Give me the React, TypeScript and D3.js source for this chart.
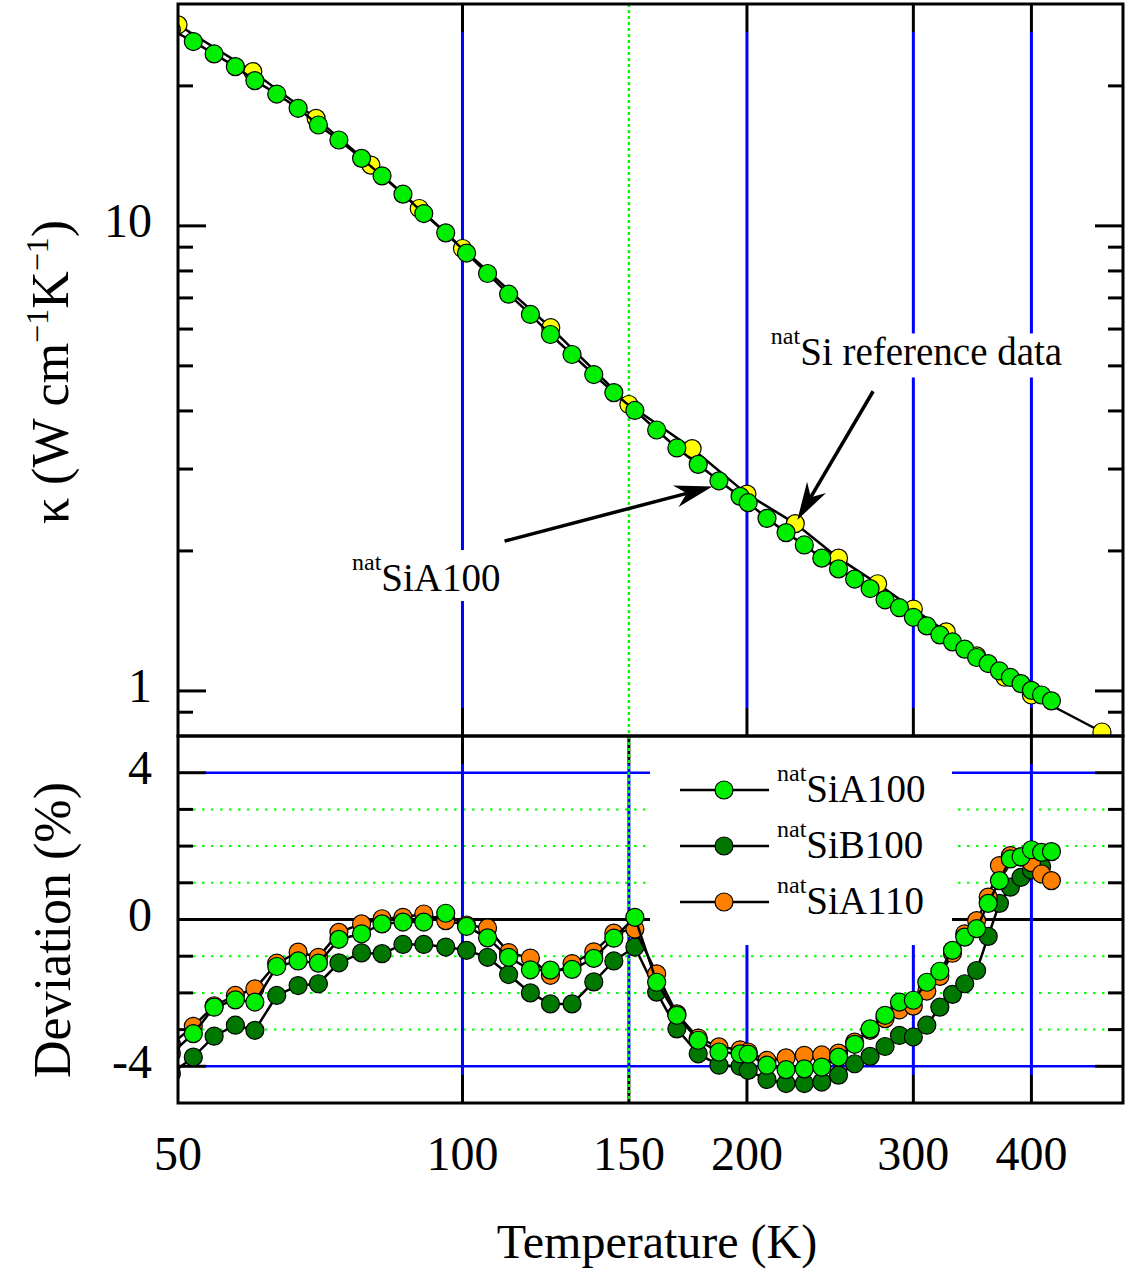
import { scaleLog, scaleLinear, line } from 'd3'

const width = 1126,
      height = 1272,
      left = 178, right = 1123, top = 4, mid = 736, bottom = 1103,
      majorLen = 28, minorLen = 15,
      markR = 9

// temperatures of the sample runs (K)
const temps = [49.2, 51.9, 54.6, 57.5, 60.3, 63.6, 67.0, 70.4, 74.0, 78.2,
  82.2, 86.5, 91.0, 96.0, 101.0, 106.3, 111.9, 118.0, 123.9, 130.6,
  137.7, 144.6, 152.2, 160.5, 168.6, 177.6, 186.8, 196.7, 200.6,
  210, 220, 230, 240, 250, 260, 270, 280, 290, 300,
  310, 320, 330, 340, 350, 360, 370, 380, 390, 400, 410, 420]

// kappa of natSiA100 (W cm-1 K-1)
const kappaA100 = [26.4, 24.91, 23.43, 22.0, 20.53, 19.21, 17.90, 16.48, 15.30, 13.97,
  12.81, 11.70, 10.63, 9.66, 8.74, 7.90, 7.13, 6.45, 5.84, 5.29,
  4.79, 4.38, 4.01, 3.64, 3.33, 3.07, 2.83, 2.62, 2.54,
  2.35, 2.19, 2.06, 1.93, 1.83, 1.74, 1.66, 1.57, 1.51, 1.44,
  1.38, 1.32, 1.275, 1.23, 1.18, 1.145, 1.104, 1.069, 1.037, 1.003, 0.98, 0.952]

// deviation from reference (%)
const devA100 = [-3.65, -3.11, -2.39, -2.19, -2.25, -1.28, -1.13, -1.19, -0.54, -0.39,
  -0.12, -0.07, -0.07, 0.17, -0.19, -0.50, -1.03, -1.37, -1.38, -1.36,
  -1.06, -0.51, 0.06, -1.71, -2.61, -3.29, -3.61, -3.66, -3.67,
  -3.97, -4.09, -4.07, -4.02, -3.75, -3.40, -2.98, -2.61, -2.25, -2.20,
  -1.71, -1.41, -0.84, -0.48, -0.25, 0.44, 1.06, 1.65, 1.71, 1.90, 1.83, 1.85]

const devB100 = [-4.2, -3.75, -3.18, -2.88, -3.02, -2.07, -1.80, -1.75, -1.18, -0.91,
  -0.93, -0.68, -0.68, -0.75, -0.84, -1.03, -1.50, -2.00, -2.30, -2.30,
  -1.70, -1.13, -0.75, -1.98, -2.98, -3.66, -3.97, -4.00, -4.11,
  -4.36, -4.47, -4.47, -4.43, -4.24, -3.93, -3.73, -3.46, -3.16, -3.20,
  -2.88, -2.39, -2.04, -1.75, -1.39, -0.46, 0.44, 0.88, 1.15, 1.35, 1.44]

const devA110 = [-3.4, -2.91, -2.35, -2.07, -1.89, -1.19, -0.89, -1.03, -0.35, -0.12,
  0.02, 0.06, 0.15, -0.03, -0.15, -0.23, -0.90, -1.05, -1.52, -1.20,
  -0.88, -0.37, -0.26, -1.48, -2.57, -3.23, -3.47, -3.55, -3.61,
  -3.84, -3.77, -3.70, -3.69, -3.64, -3.34, -3.02, -2.70, -2.46, -2.36,
  -1.95, -1.55, -0.92, -0.39, -0.03, 0.61, 1.47, 1.74, 1.70, 1.55, 1.24, 1.06]

// natSi reference data
const refTemps = [50, 60, 70, 80, 90, 100, 124, 150, 175, 200, 225, 250, 275, 300, 325, 350, 375, 400, 475]
const refKappa = [27.06, 21.46, 17.03, 13.51, 10.90, 8.94, 6.04, 4.13, 3.32, 2.65, 2.29, 1.93, 1.70, 1.50, 1.34, 1.19, 1.07, 0.98, 0.816]

const xTicks = [50, 100, 150, 200, 300, 400]
const xGrid = [100, 200, 300, 400]
const kMajor = [1, 10]
const kMinor = [0.9, 2, 3, 4, 5, 6, 7, 8, 9, 20]
const devMajor = [-4, 0, 4]
const devMinor = [-3, -2, -1, 1, 2, 3]

const green = '#00ee00', darkGreen = '#007800', orange = '#ff8000', yellow = '#ffff00', blue = '#0000ff'
const font = '"Liberation Serif", "Times New Roman", serif'

const series = [
  { name: 'SiA100', fill: green, dev: devA100 },
  { name: 'SiB100', fill: darkGreen, dev: devB100 },
  { name: 'SiA110', fill: orange, dev: devA110 },
]
const drawOrder = [1, 2, 0]

const x = scaleLog().domain([50, 500]).range([left, right])
const yK = scaleLog().domain([0.8, 30]).range([mid, top])
const yD = scaleLinear().domain([-5, 5]).range([bottom, mid])

// annotation arrows, in data coordinates [T, kappa]
const arrows = [
  { from: [110.8, 2.10], to: [183.9, 2.75] },
  { from: [272, 4.41], to: [226.1, 2.33] },
]

const arrowParts = (a) => {
  const x1 = x(a.from[0]), y1 = yK(a.from[1]), x2 = x(a.to[0]), y2 = yK(a.to[1])
  const dx = x2 - x1, dy = y2 - y1, len = Math.hypot(dx, dy)
  const ux = dx / len, uy = dy / len, nx = -uy, ny = ux
  const L = 38, w = 11
  const bx = x2 - ux * L, by = y2 - uy * L
  const mx = x2 - ux * L * 0.7, my = y2 - uy * L * 0.7
  return {
    shaft: `M${x1},${y1}L${mx},${my}`,
    head: `M${x2},${y2}L${bx + nx * w},${by + ny * w}L${mx},${my}L${bx - nx * w},${by - ny * w}Z`
  }
}

export default function App() {
  const kLine = line<number[]>().x(d => x(d[0])).y(d => yK(d[1]))
  const dLine = line<number[]>().x(d => x(d[0])).y(d => yD(d[1]))

  const refPts = refTemps.map((t, i) => [t, refKappa[i]])
  const a100Pts = temps.map((t, i) => [t, kappaA100[i]])

  const refLabel = { x: x(212), y: yK(5.01) }
  const a100Label = { x: x(76.4), y: yK(1.64) }

  return (
    <svg width={width} height={height} style={{ position: 'absolute', left: 0, top: 0, background: '#fff' }}
         fontFamily={font}>
      <defs>
        <clipPath id='clipTop'><rect x={left} y={top} width={right - left} height={mid - top} /></clipPath>
        <clipPath id='clipBot'><rect x={left} y={mid} width={right - left} height={bottom - mid} /></clipPath>
      </defs>

      {/* bottom panel grid */}
      {devMinor.map(d => (
        <line key={'gd' + d} x1={left + minorLen} x2={right - minorLen} y1={yD(d)} y2={yD(d)}
              stroke='#00ff00' strokeWidth={2} strokeDasharray='2.5 6.5' />
      ))}
      {[-4, 4].map(d => (
        <line key={'bd' + d} x1={left + majorLen} x2={right - majorLen} y1={yD(d)} y2={yD(d)}
              stroke={blue} strokeWidth={2.5} />
      ))}
      <line x1={left} x2={right} y1={yD(0)} y2={yD(0)} stroke='#000' strokeWidth={3} />
      {[...xGrid, 150].map(t => (
        <line key={'bv' + t} x1={x(t)} x2={x(t)} y1={mid + majorLen} y2={bottom - majorLen}
              stroke={blue} strokeWidth={3} />
      ))}

      {/* top panel grid */}
      {xGrid.map(t => (
        <line key={'tv' + t} x1={x(t)} x2={x(t)} y1={top + majorLen} y2={mid - majorLen}
              stroke={blue} strokeWidth={3} />
      ))}

      {/* ticks */}
      <g stroke='#000' strokeWidth={3}>
        {xGrid.map(t => (
          <g key={'xt' + t}>
            <line x1={x(t)} x2={x(t)} y1={top} y2={top + majorLen} />
            <line x1={x(t)} x2={x(t)} y1={mid} y2={mid - majorLen} />
            <line x1={x(t)} x2={x(t)} y1={mid} y2={mid + majorLen} />
            <line x1={x(t)} x2={x(t)} y1={bottom} y2={bottom - majorLen} />
          </g>
        ))}
        <line x1={x(150)} x2={x(150)} y1={bottom} y2={bottom - majorLen} />
        <line x1={x(150)} x2={x(150)} y1={mid} y2={mid + majorLen} />
        {kMajor.map(k => (
          <g key={'km' + k}>
            <line x1={left} x2={left + majorLen} y1={yK(k)} y2={yK(k)} />
            <line x1={right} x2={right - majorLen} y1={yK(k)} y2={yK(k)} />
          </g>
        ))}
        {kMinor.map(k => (
          <g key={'kn' + k}>
            <line x1={left} x2={left + minorLen} y1={yK(k)} y2={yK(k)} />
            <line x1={right} x2={right - minorLen} y1={yK(k)} y2={yK(k)} />
          </g>
        ))}
        {devMajor.map(d => (
          <g key={'dm' + d}>
            <line x1={left} x2={left + majorLen} y1={yD(d)} y2={yD(d)} />
            <line x1={right} x2={right - majorLen} y1={yD(d)} y2={yD(d)} />
          </g>
        ))}
        {devMinor.map(d => (
          <g key={'dn' + d}>
            <line x1={left} x2={left + minorLen} y1={yD(d)} y2={yD(d)} />
            <line x1={right} x2={right - minorLen} y1={yD(d)} y2={yD(d)} />
          </g>
        ))}
      </g>

      {/* white boxes behind legend and labels */}
      <rect x={650} y={mid + 1} width={302} height={208} fill='#fff' />
      <rect x={refLabel.x - 6} y={refLabel.y - 32} width={292} height={44} fill='#fff' />
      <rect x={a100Label.x - 6} y={a100Label.y - 41} width={154} height={51} fill='#fff' />

      {/* dotted marker at 150 K */}
      <line x1={x(150)} x2={x(150)} y1={top} y2={bottom} stroke='#00ff00' strokeWidth={2.5} strokeDasharray='3 3' />

      {/* top panel data */}
      <g clipPath='url(#clipTop)'>
        <path d={kLine(refPts)} fill='none' stroke='#000' strokeWidth={2.5} />
        {refPts.map((p, i) => (
          <circle key={'r' + i} cx={x(p[0])} cy={yK(p[1])} r={markR} fill={yellow} stroke='#000' strokeWidth={1.2} />
        ))}
        <path d={kLine(a100Pts)} fill='none' stroke='#000' strokeWidth={2.5} />
        {a100Pts.map((p, i) => (
          <circle key={'a' + i} cx={x(p[0])} cy={yK(p[1])} r={markR} fill={green} stroke='#000' strokeWidth={1.2} />
        ))}
      </g>

      {/* bottom panel data */}
      <g clipPath='url(#clipBot)'>
        {drawOrder.map(si => {
          const s = series[si]
          const pts = s.dev.map((d, i) => [temps[i], d])
          return (
            <g key={s.name}>
              <path d={dLine(pts)} fill='none' stroke='#000' strokeWidth={2.5} />
              {pts.map((p, i) => (
                <circle key={i} cx={x(p[0])} cy={yD(p[1])} r={markR} fill={s.fill} stroke='#000' strokeWidth={1.2} />
              ))}
            </g>
          )
        })}
      </g>

      {/* frames */}
      <rect x={left} y={top} width={right - left} height={mid - top} fill='none' stroke='#000' strokeWidth={3} />
      <rect x={left} y={mid} width={right - left} height={bottom - mid} fill='none' stroke='#000' strokeWidth={3} />

      {/* tick labels */}
      <g fontSize={48} fill='#000'>
        {xTicks.map(t => (
          <text key={'xl' + t} x={x(t)} y={1170} textAnchor='middle'>{t}</text>
        ))}
        {kMajor.map(k => (
          <text key={'kl' + k} x={152} y={yK(k) + 11.5} textAnchor='end'>{k}</text>
        ))}
        {devMajor.map(d => (
          <text key={'dl' + d} x={152} y={yD(d) + 11.5} textAnchor='end'>{d}</text>
        ))}
      </g>

      {/* axis titles */}
      <text x={657} y={1258} fontSize={48} textAnchor='middle'>Temperature (K)</text>
      <text transform='translate(68,372) rotate(-90)' fontSize={52} textAnchor='middle'>
        κ (W cm<tspan fontSize={32} dy={-20}>−1</tspan><tspan dy={20}>K</tspan><tspan fontSize={32} dy={-20}>−1</tspan><tspan dy={20}>)</tspan>
      </text>
      <text transform='translate(70,930) rotate(-90)' fontSize={52} textAnchor='middle'>Deviation (%)</text>

      {/* legend */}
      {series.map((s, i) => {
        const cy = 790 + i * 56
        return (
          <g key={'lg' + s.name}>
            <line x1={680} x2={769} y1={cy} y2={cy} stroke='#000' strokeWidth={2.5} />
            <circle cx={724} cy={cy} r={markR} fill={s.fill} stroke='#000' strokeWidth={1.2} />
            <text x={777} y={cy + 12} fontSize={39}>
              <tspan fontSize={24} dy={-21}>nat</tspan><tspan dy={21}>{s.name}</tspan>
            </text>
          </g>
        )
      })}

      {/* annotations */}
      <text x={refLabel.x} y={refLabel.y} fontSize={39}>
        <tspan fontSize={24} dy={-21}>nat</tspan><tspan dy={21}>Si reference data</tspan>
      </text>
      <text x={a100Label.x} y={a100Label.y} fontSize={39}>
        <tspan fontSize={24} dy={-21}>nat</tspan><tspan dy={21}>SiA100</tspan>
      </text>
      {arrows.map((a, i) => {
        const p = arrowParts(a)
        return (
          <g key={'ar' + i}>
            <path d={p.shaft} stroke='#000' strokeWidth={3.5} fill='none' />
            <path d={p.head} fill='#000' />
          </g>
        )
      })}
    </svg>
  )
}
